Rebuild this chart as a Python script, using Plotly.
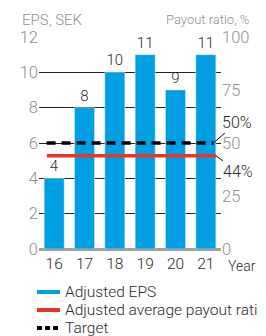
import plotly.graph_objects as go

years = ["16", "17", "18", "19", "20", "21"]
eps = [4, 8, 10, 11, 9, 11]
avg_payout = 44
target_payout = 50
left_ticks = [0, 2, 4, 6, 8, 10, 12]
right_ticks = [0, 25, 50, 75, 100]

BLUE = "#009FE3"
RED = "#E5352B"
FONT = "Roboto"
GRAY = "#8f8f8f"
DARK = "#2a2a2a"
WT = 300

OFF = 8
PL, PT, PW, PH = 39, 37, 182, 212
W, H = 258, 328
L = PL - OFF
T = PT - OFF
R = W - L - PW
B = H - T - PH

idx = list(range(len(years)))

fig = go.Figure()
fig.add_trace(go.Bar(
    x=idx, y=eps, marker_color=BLUE, width=0.66,
    text=[str(v) for v in eps], textposition="outside",
    textfont=dict(family=FONT, size=15, color=DARK, weight=WT),
    cliponaxis=False, showlegend=False,
))
fig.add_trace(go.Scatter(
    x=[idx[0] - 0.24, idx[-1] + 0.33], y=[avg_payout, avg_payout], yaxis="y2",
    mode="lines", line=dict(color=RED, width=3.5), showlegend=False,
))
fig.add_trace(go.Scatter(
    x=[idx[0] - 0.25, idx[-1] + 0.25], y=[target_payout, target_payout], yaxis="y2",
    mode="lines", line=dict(color="#000000", width=3.5, dash="9px,6px"), showlegend=False,
))

fig.update_layout(
    width=W, height=H,
    margin=dict(l=L, r=R, t=T, b=B, pad=0),
    paper_bgcolor="white", plot_bgcolor="white",
    xaxis=dict(
        range=[-0.5, len(years) - 0.5], tickvals=idx, ticktext=years,
        showgrid=False, zeroline=False, showline=False, ticks="",
        ticklabelstandoff=3,
        tickfont=dict(family=FONT, size=15.5, color=DARK, weight=WT), fixedrange=True,
    ),
    yaxis=dict(
        range=[0, 12], tickvals=left_ticks, showgrid=True, gridcolor="#222222", gridwidth=1,
        zeroline=True, zerolinecolor="#a0a0a0", zerolinewidth=3,
        showline=False, ticks="", tickfont=dict(family=FONT, size=16.5, color=GRAY, weight=WT),
    ),
    yaxis2=dict(
        range=[0, 100], tickvals=right_ticks, overlaying="y", side="right",
        showgrid=False, zeroline=False, showline=False, ticks="",
        tickfont=dict(family=FONT, size=16.5, color=GRAY, weight=WT),
    ),
    font=dict(family=FONT, weight=WT),
    showlegend=False,
)

def px_x(p):
    return (p - PL) / PW

def px_y(p):
    return (PT + PH - p) / PH

annots = [
    dict(text="EPS, SEK", x=px_x(20), y=px_y(20), xanchor="left", yanchor="middle",
         font=dict(size=15, color=GRAY)),
    dict(text="Payout ratio, %", x=px_x(251), y=px_y(20), xanchor="right", yanchor="middle",
         font=dict(size=13, color=GRAY)),
    dict(text="Year", x=px_x(226), y=px_y(266), xanchor="left", yanchor="middle",
         font=dict(size=14, color=DARK)),
    dict(text="Adjusted EPS", x=px_x(63), y=px_y(292), xanchor="left", yanchor="middle",
         font=dict(size=15.5, color=DARK)),
    dict(text="Adjusted average payout ratio", x=px_x(63), y=px_y(310), xanchor="left", yanchor="middle",
         font=dict(size=15.5, color=DARK)),
    dict(text="Target", x=px_x(63), y=px_y(328), xanchor="left", yanchor="middle",
         font=dict(size=15.5, color=DARK)),
]
for a in annots:
    a.update(xref="paper", yref="paper", showarrow=False)
    a["font"]["family"] = FONT
    a["font"]["weight"] = WT
    fig.add_annotation(**a)

fig.add_annotation(x=idx[-1] + 0.25, y=target_payout, xref="x", yref="y2",
                   text=f"{target_payout}%", showarrow=True, arrowhead=0, arrowwidth=1,
                   arrowcolor="#000000", ax=24, ay=-21,
                   font=dict(family=FONT, size=16, color=DARK, weight=WT))
fig.add_annotation(x=idx[-1] + 0.33, y=avg_payout, xref="x", yref="y2",
                   text=f"{avg_payout}%", showarrow=True, arrowhead=0, arrowwidth=1,
                   arrowcolor="#000000", ax=22, ay=16,
                   font=dict(family=FONT, size=16, color=DARK, weight=WT))

sw = [(292, BLUE, "solid"), (310, RED, "solid"), (328, "#000000", "dash")]
for yy, col, d in sw:
    fig.add_shape(type="line", xref="paper", yref="paper",
                  x0=px_x(37), x1=px_x(60), y0=px_y(yy), y1=px_y(yy),
                  line=dict(color=col, width=4, dash=("5px,3px" if d == "dash" else "solid")))

fig.write_html("out.html")
